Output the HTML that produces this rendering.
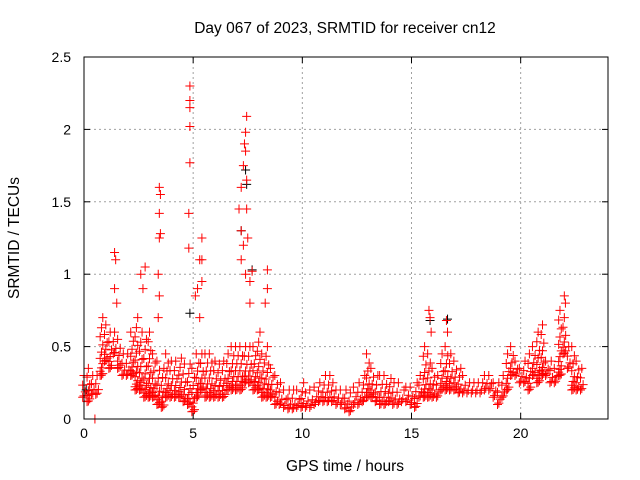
<!DOCTYPE html>
<html><head><meta charset="utf-8"><style>
body{margin:0;background:#fff}
svg{display:block;font-family:"Liberation Sans",sans-serif}
</style></head><body>
<svg id="chart" width="640" height="480" xmlns="http://www.w3.org/2000/svg">
<text x="345" y="33" font-size="15.5" text-anchor="middle">Day 067 of 2023, SRMTID for receiver cn12</text>
<text x="345" y="471" font-size="15.5" text-anchor="middle">GPS time / hours</text>
<text transform="translate(19,238) rotate(-90)" font-size="15.5" text-anchor="middle">SRMTID / TECUs</text>
<g id="grid"></g>
<g id="points"></g>
<rect x="84" y="57" width="524" height="362" fill="none" stroke="#000" stroke-width="1"/>
<g id="ticks"></g>
</svg>
<script>
const times=[0.0,0.2,0.4,0.6,0.8,1.0,1.2,1.4,1.6,1.8,2.0,2.2,2.4,2.6,2.8,3.0,3.2,3.4,3.6,3.8,4.0,4.2,4.4,4.6,4.8,5.0,5.2,5.4,5.6,5.8,6.0,6.2,6.4,6.6,6.8,7.0,7.2,7.4,7.6,7.8,8.0,8.2,8.4,8.6,8.8,9.0,9.2,9.4,9.6,9.8,10.0,10.2,10.4,10.6,10.8,11.0,11.2,11.4,11.6,11.8,12.0,12.2,12.4,12.6,12.8,13.0,13.2,13.4,13.6,13.8,14.0,14.2,14.4,14.6,14.8,15.0,15.2,15.4,15.6,15.8,16.0,16.2,16.4,16.6,16.8,17.0,17.2,17.4,17.6,17.8,18.0,18.2,18.4,18.6,18.8,19.0,19.2,19.4,19.6,19.8,20.0,20.2,20.4,20.6,20.8,21.0,21.2,21.4,21.6,21.8,22.0,22.2,22.4,22.6,22.8];
const lowVals=[0.15,0.12,0.17,0.17,0.3,0.4,0.35,0.45,0.35,0.3,0.3,0.3,0.2,0.2,0.15,0.15,0.15,0.1,0.08,0.15,0.15,0.15,0.15,0.12,0.1,0.05,0.15,0.2,0.15,0.15,0.15,0.15,0.15,0.2,0.2,0.2,0.2,0.25,0.25,0.2,0.2,0.15,0.15,0.15,0.1,0.1,0.08,0.07,0.07,0.08,0.08,0.08,0.08,0.1,0.12,0.12,0.12,0.12,0.1,0.1,0.07,0.05,0.1,0.1,0.12,0.15,0.15,0.12,0.1,0.1,0.12,0.1,0.1,0.12,0.12,0.1,0.08,0.15,0.15,0.15,0.15,0.15,0.2,0.2,0.2,0.2,0.18,0.18,0.18,0.18,0.18,0.18,0.2,0.2,0.15,0.1,0.15,0.2,0.3,0.3,0.25,0.25,0.2,0.3,0.25,0.3,0.3,0.25,0.25,0.3,0.45,0.35,0.2,0.2,0.2];
const highVals=[0.3,0.35,0.3,0.3,0.7,0.65,0.6,0.6,0.55,0.45,0.45,0.6,0.7,0.6,0.55,0.6,0.45,0.4,0.35,0.45,0.4,0.4,0.42,0.38,0.38,0.35,0.45,0.45,0.45,0.45,0.4,0.38,0.4,0.45,0.5,0.5,0.5,0.5,0.5,0.5,0.6,0.45,0.5,0.35,0.3,0.25,0.2,0.2,0.2,0.2,0.25,0.18,0.2,0.22,0.25,0.3,0.3,0.25,0.2,0.2,0.2,0.18,0.22,0.25,0.3,0.45,0.35,0.3,0.3,0.3,0.28,0.25,0.25,0.2,0.22,0.22,0.25,0.3,0.5,0.45,0.35,0.3,0.45,0.5,0.45,0.4,0.35,0.3,0.25,0.25,0.25,0.25,0.3,0.3,0.25,0.25,0.3,0.45,0.5,0.4,0.35,0.4,0.45,0.5,0.6,0.65,0.4,0.4,0.35,0.75,0.7,0.5,0.5,0.4,0.35];
const spikeTimes=[1.4,1.45,1.4,1.5,2.6,2.8,2.7,3.45,3.5,3.45,3.5,3.45,3.4,3.45,3.4,4.85,4.85,4.85,4.85,4.85,4.8,4.8,5.4,5.3,5.4,5.2,5.1,5.4,5.3,7.1,7.2,7.2,7.3,7.35,7.4,7.45,7.4,7.45,7.45,7.5,7.3,7.2,7.4,7.6,7.7,7.6,8.4,8.4,8.3,15.8,15.85,15.9,16.6,16.65,22.0,22.05,0.5];
const spikeVals=[1.15,1.1,0.9,0.8,1.0,1.05,0.9,1.6,1.55,1.42,1.28,1.25,1.0,0.85,0.7,2.3,2.2,2.15,2.02,1.77,1.42,1.18,1.25,1.1,1.1,0.9,0.85,0.95,0.7,1.45,1.3,1.6,1.75,1.9,1.98,2.09,1.85,1.65,1.45,1.25,1.2,1.1,1.0,0.95,1.02,0.8,1.03,0.9,0.8,0.75,0.7,0.6,0.68,0.6,0.85,0.8,0.0];
const blackTimes=[4.85,7.4,7.45,7.2,7.7,15.85,16.65,0.1];
const blackVals=[0.73,1.72,1.62,1.3,1.03,0.68,0.69,0.2];
const xTicks=[0,5,10,15,20];
const yTicks=[0,0.5,1,1.5,2,2.5];
const yTickLabels=["0","0.5","1","1.5","2","2.5"];

const L=84,R=608,T=57,B=419,XMAX=24,YMAX=2.5;
const sx=v=>L+v/XMAX*(R-L);
const sy=v=>B-v/YMAX*(B-T);
const NS="http://www.w3.org/2000/svg";
const grid=document.getElementById('grid'),ticks=document.getElementById('ticks'),pts=document.getElementById('points');
function mk(tag,attrs,parent){const e=document.createElementNS(NS,tag);for(const k in attrs)e.setAttribute(k,attrs[k]);parent.appendChild(e);return e;}
xTicks.forEach(v=>{
  const x=sx(v);
  if(v>0){const g=mk('line',{x1:x,y1:T,x2:x,y2:B,stroke:'#a0a0a0','stroke-dasharray':'2,3'},grid);
  
  }
  mk('line',{x1:x,y1:B,x2:x,y2:B-6,stroke:'#000'},ticks);
  mk('line',{x1:x,y1:T,x2:x,y2:T+6,stroke:'#000'},ticks);
  const t=mk('text',{x:x,y:B+19,'font-size':14,'text-anchor':'middle'},ticks);
  
  
  t.textContent=v;
});
yTicks.forEach((v,i)=>{
  const y=sy(v);
  if(v>0&&v<YMAX){const g=mk('line',{x1:L,y1:y,x2:R,y2:y,stroke:'#a0a0a0','stroke-dasharray':'2,3'},grid);
  
  }
  mk('line',{x1:L,y1:y,x2:L+6,y2:y,stroke:'#000'},ticks);
  mk('line',{x1:R,y1:y,x2:R-6,y2:y,stroke:'#000'},ticks);
  const t=mk('text',{x:L-13,y:y+5,'font-size':14,'text-anchor':'end'},ticks);
  
  
  t.textContent=yTickLabels[i];
});
function plus(t,v,color){
  const x=sx(t),y=sy(v);
  const p=mk('path',{d:`M${x-4.5},${y}h9M${x},${y-4.5}v9`,stroke:color,'stroke-width':1,fill:'none'},pts);
  
  
}
blackTimes.forEach((t,i)=>plus(t,blackVals[i],'#000'));
times.forEach((t,i)=>{
  const lo=lowVals[i],hi=highVals[i];
  const n=Math.max(2,Math.round((hi-lo)/0.035));
  for(let k=0;k<=n;k++){
    const f=k/n;
    const dt=((k%3)-1)*0.06;
    plus(t+dt,lo+(hi-lo)*f*f,'#ff0000');
  }
});
spikeTimes.forEach((t,i)=>plus(t,spikeVals[i],'#ff0000'));
</script>
</body></html>
